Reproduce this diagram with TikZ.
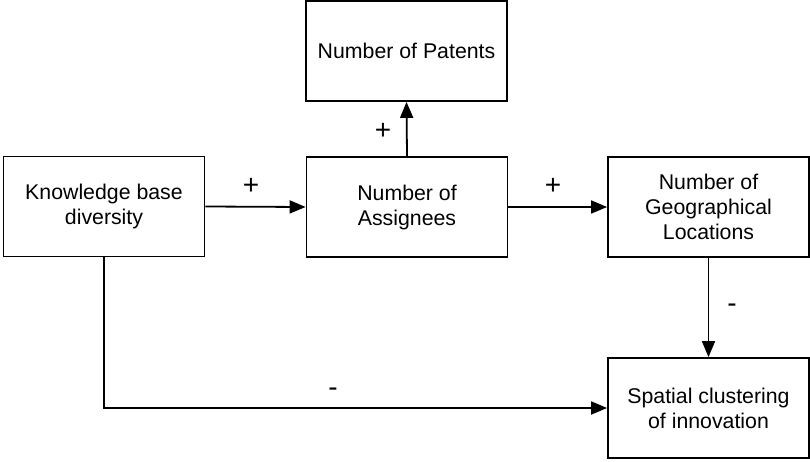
\documentclass[tikz,border=0pt]{standalone}
\usepackage{fontspec}
\setmainfont{Liberation Sans}
\usetikzlibrary{arrows.meta}
\begin{document}
\begin{tikzpicture}[x=1pt,y=-1pt,
  box/.style={draw,line width=1.8pt,minimum width=201pt,minimum height=100pt,inner sep=0pt,align=center,font=\fontsize{21.3}{25}\selectfont},
  conn/.style={line width=1.8pt,-{Triangle[length=16pt,width=13pt]}},
  sign/.style={font=\fontsize{28}{30}\selectfont,inner sep=0pt}]
\useasboundingbox (0,0) rectangle (810,462);
\node[box] (kb) at (104,206.5) {Knowledge base\\diversity};
\node[box] (asg) at (407,207) {Number of\\Assignees};
\node[box] (pat) at (406.5,51) {Number of Patents};
\node[box] (geo) at (708.5,207) {Number of\\Geographical\\Locations};
\node[box] (sp) at (708.5,408) {Spatial clustering\\of innovation};
\coordinate (corner) at (kb.south |- sp.west);
\draw[conn] (kb.east) -- (asg.west);
\draw[conn] (asg.north) -- (pat.south);
\draw[conn] (asg.east) -- (geo.west);
\draw[conn] (geo.south) -- (sp.north);
\draw[conn] (kb.south) -- (corner) -- (sp.west);
\node[sign] (s1) at (251,186) {+};
\node[sign] (s2) at (383,131) {+};
\node[sign] (s3) at (553,186) {+};
\node[sign] (s4) at (732,308) {-};
\node[sign] (s5) at (333,392) {-};
\end{tikzpicture}
\end{document}
